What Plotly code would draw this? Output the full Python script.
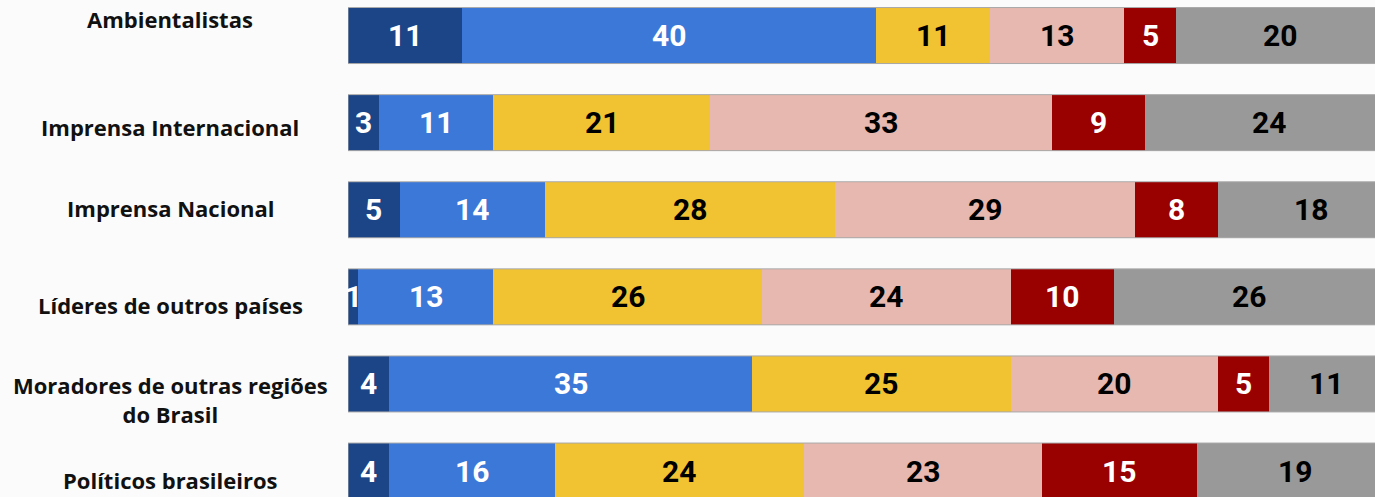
import plotly.graph_objects as go

# Percentual de respostas por grupo (cada linha soma ~100)
groups = [
    "Ambientalistas",
    "Imprensa Internacional",
    "Imprensa Nacional",
    "Líderes de outros países",
    "Moradores de outras regiões<br>do Brasil",
    "Políticos brasileiros",
]
seg1 = [11, 3, 5, 1, 4, 4]
seg2 = [40, 11, 14, 13, 35, 16]
seg3 = [11, 21, 28, 26, 25, 24]
seg4 = [13, 33, 29, 24, 20, 23]
seg5 = [5, 9, 8, 10, 5, 15]
seg6 = [20, 24, 18, 26, 11, 19]
series = [seg1, seg2, seg3, seg4, seg5, seg6]

# Estilo de cada segmento: cor de preenchimento e cor do rótulo
fills = ["#1c4587", "#3c78d8", "#f1c232", "#e6b8af", "#990000", "#999999"]
label_colors = ["white", "white", "black", "black", "white", "black"]

# Deslocamento vertical (px) de cada rótulo de grupo
label_shift = [17, -4, 2, -8, -16, -9]

BAR_W = 0.643

fig = go.Figure()
ypos = list(range(len(groups)))
for vals, fc in zip(series, fills):
    fig.add_trace(go.Bar(
        y=ypos,
        x=vals,
        orientation="h",
        width=BAR_W,
        marker=dict(color=fc, line=dict(width=0)),
        hoverinfo="skip",
    ))

# Valores centrados em cada segmento (posição a partir da soma acumulada)
for i in ypos:
    start = 0
    for vals, tc in zip(series, label_colors):
        v = vals[i]
        fig.add_annotation(
            x=start + v / 2, xref="x", y=i, yref="y",
            text=str(v), showarrow=False,
            xanchor="center", yanchor="middle",
            font=dict(family="Roboto", size=30, color=tc, weight="bold"),
        )
        start += v

# Contorno fino em volta de cada barra completa
for i in ypos:
    total = sum(s[i] for s in series)
    fig.add_shape(
        type="rect", xref="x", yref="y",
        x0=0, x1=total, y0=i - BAR_W / 2, y1=i + BAR_W / 2,
        line=dict(color="#a9a9a9", width=1), fillcolor="rgba(0,0,0,0)",
        layer="above",
    )

# Rótulos dos grupos à esquerda
for i, (g, sh) in enumerate(zip(groups, label_shift)):
    fig.add_annotation(
        x=-0.1733, xref="paper", xanchor="center",
        y=i, yref="y", yanchor="middle", yshift=sh,
        text=g, showarrow=False, align="center",
        font=dict(family="Open Sans", size=22, color="#111111", weight="bold"),
    )

fig.update_layout(
    width=1375, height=497,
    margin=dict(l=348, r=0, t=0, b=0),
    barmode="stack",
    bargap=0,
    showlegend=False,
    paper_bgcolor="#fbfbfb",
    plot_bgcolor="#fbfbfb",
    xaxis=dict(range=[0, 99.2], visible=False, fixedrange=True),
    yaxis=dict(range=[5.298, -0.408], visible=False, fixedrange=True),
)

fig.write_html("out.html")
